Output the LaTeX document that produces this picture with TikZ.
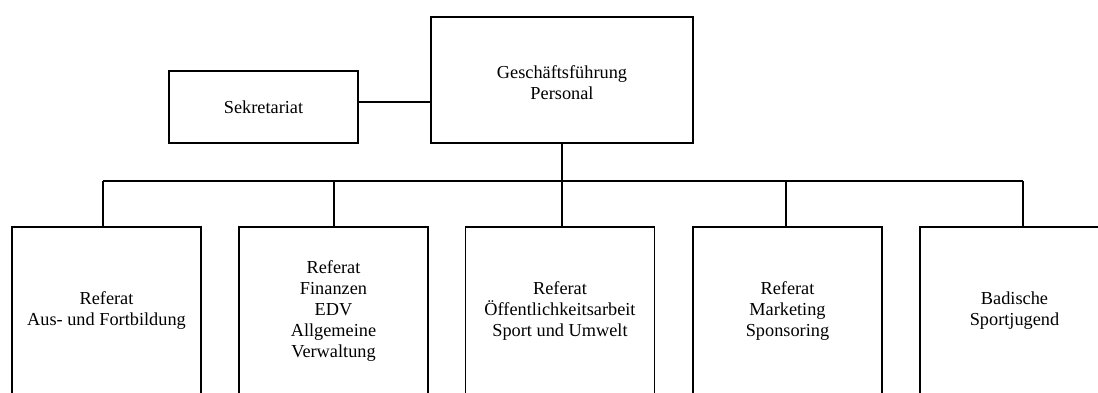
\documentclass[tikz,border=0pt]{standalone}
\usepackage{fontspec}
\setmainfont{Liberation Serif}
\begin{document}
\begin{tikzpicture}[x=1pt,y=-1pt,
  box/.style={draw, line width=1.3pt, inner sep=0pt, align=center,
    font=\fontsize{18.3}{21}\selectfont},
  unit/.style={box, minimum width=189pt, minimum height=168pt},
  link/.style={line width=1.3pt}]
\useasboundingbox (0,0) rectangle (1098,392);
\clip (0,0) rectangle (1098,392);

% management and office
\node[box, minimum width=262pt, minimum height=126pt] (gf) at (562,80)
  {\raisebox{-5pt}[\height][\depth]{\begin{tabular}{@{}c@{}}Geschäftsführung\\Personal\end{tabular}}};
\node[box, minimum width=189pt, minimum height=72pt] (sek) at (263.5,107)
  {Sekretariat};

% departments
\node[unit] (r1) at (106.5,311) {Referat\\Aus- und Fortbildung};
\node[unit] (r2) at (333.5,311) {Referat\\Finanzen\\EDV\\Allgemeine\\Verwaltung};
\node[unit] (r3) at (560,311) {Referat\\Öffentlichkeitsarbeit\\Sport und Umwelt};
\node[unit] (r4) at (787.5,311) {Referat\\Marketing\\Sponsoring};
\node[unit] (r5) at (1014.5,311) {Badische\\Sportjugend};

% junction points on the distribution bus
\coordinate (j0) at (0,102);
\coordinate (b1) at (103,181);
\coordinate (b2) at (334,181);
\coordinate (b4) at (786,181);
\coordinate (b5) at (1023,181);

% connectors
\draw[link] (sek.east |- j0) -- (gf.west |- j0);
\draw[link] (gf.south) -- (r3.north -| gf.south);
\draw[link] (b1) -- (b5);
\draw[link] (b1) -- (b1 |- r1.north);
\draw[link] (b2) -- (b2 |- r2.north);
\draw[link] (b4) -- (b4 |- r4.north);
\draw[link] (b5) -- (b5 |- r5.north);
\end{tikzpicture}
\end{document}
